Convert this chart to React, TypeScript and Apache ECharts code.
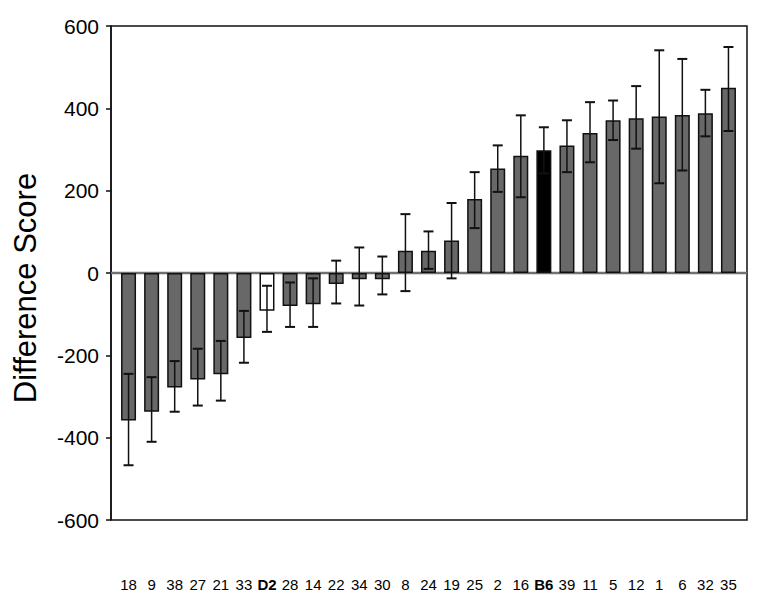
import React, { useEffect, useRef } from "react";
import * as echarts from "echarts";

const categories = ["18","9","38","27","21","33","D2","28","14","22","34","30","8","24","19","25","2","16","B6","39","11","5","12","1","6","32","35"];
const values = [-358,-337,-278,-259,-246,-158,-92,-80,-76,-27,-15,-15,54,54,79,180,254,285,298,310,340,371,376,380,384,388,450];
const errLow = [-467,-410,-337,-322,-310,-218,-143,-131,-131,-74,-79,-52,-44,10,-13,109,197,184,242,245,269,323,302,218,249,332,345];
const errHigh = [-245,-253,-214,-184,-165,-92,-31,-23,-13,30,62,40,143,101,170,245,310,383,354,371,415,419,454,541,520,445,549];
const yTicks = [-600, -400, -200, 0, 200, 400, 600];
const yTitle = "Difference Score";
const highlightWhite = "D2";
const highlightBlack = "B6";

const FONT = "'Liberation Sans', Arial, sans-serif";

export default function App() {
  const ref = useRef<HTMLDivElement>(null);
  useEffect(() => {
    if (!ref.current) return;
    const chart = echarts.init(ref.current, undefined, { renderer: "svg" });
    const yMin = yTicks[0];
    const yMax = yTicks[yTicks.length - 1];
    const option: any = {
      animation: false,
      backgroundColor: "#fff",
      grid: [
        { left: 111, right: 12, top: 26, bottom: 72, show: true, borderColor: "#111", borderWidth: 1.5, backgroundColor: "transparent", outerBoundsMode: "none", containLabel: false },
        { left: 117, right: 19, top: 26, bottom: 72, outerBoundsMode: "none", containLabel: false },
      ],
      graphic: [
        {
          type: "text",
          x: 25,
          y: 288,
          rotation: Math.PI / 2,
          style: { text: yTitle, fontSize: 31, fill: "#000", fontFamily: FONT, align: "center", verticalAlign: "middle" },
        },
      ],
      xAxis: [
        { type: "value", gridIndex: 0, min: 0, max: 1, show: false },
        {
          type: "category",
          gridIndex: 1,
          data: categories,
          axisLine: { show: false },
          axisTick: { show: false },
          axisLabel: {
            interval: 0,
            margin: 57,
            fontSize: 15,
            color: "#000",
            fontFamily: FONT,
            formatter: (v: string) => (v === highlightWhite || v === highlightBlack ? `{b|${v}}` : v),
            rich: { b: { fontWeight: "bold", fontSize: 15, fontFamily: FONT, color: "#000" } },
          },
        },
      ],
      yAxis: [
        {
          type: "value",
          gridIndex: 0,
          min: yMin,
          max: yMax,
          interval: 200,
          axisLine: { show: true, lineStyle: { color: "#111", width: 1.5 } },
          axisTick: { show: true, length: 5, lineStyle: { color: "#111", width: 1.5 } },
          axisLabel: { fontSize: 21, color: "#000", fontFamily: FONT, margin: 12 },
          splitLine: { show: false },
        },
        { type: "value", gridIndex: 1, min: yMin, max: yMax, interval: 200, show: false, splitLine: { show: false } },
      ],
      series: [
        {
          type: "line",
          xAxisIndex: 0,
          yAxisIndex: 0,
          data: [[0, 0], [1, 0]],
          symbol: "none",
          lineStyle: { color: "#707070", width: 2.5 },
          z: 1,
          silent: true,
        },
        {
          type: "bar",
          xAxisIndex: 1,
          yAxisIndex: 1,
          barWidth: 15,
          z: 2,
          data: values.map((v, i) => ({
            value: v,
            itemStyle: {
              color: categories[i] === highlightWhite ? "#ffffff" : categories[i] === highlightBlack ? "#000000" : "#686868",
              borderColor: "#111",
              borderWidth: 1.5,
            },
          })),
        },
        {
          type: "custom",
          xAxisIndex: 1,
          yAxisIndex: 1,
          z: 3,
          data: categories.map((c, i) => [i, errLow[i], errHigh[i]]),
          renderItem: (params: any, api: any) => {
            const x = api.value(0);
            const lo = api.coord([x, api.value(1)]);
            const hi = api.coord([x, api.value(2)]);
            const half = 5;
            const style = { stroke: "#111", lineWidth: 1.5 };
            return {
              type: "group",
              children: [
                { type: "line", shape: { x1: lo[0], y1: lo[1], x2: hi[0], y2: hi[1] }, style },
                { type: "line", shape: { x1: lo[0] - half, y1: lo[1], x2: lo[0] + half, y2: lo[1] }, style: { stroke: "#111", lineWidth: 2 } },
                { type: "line", shape: { x1: hi[0] - half, y1: hi[1], x2: hi[0] + half, y2: hi[1] }, style: { stroke: "#111", lineWidth: 2 } },
              ],
            };
          },
        },
      ],
    };
    chart.setOption(option);
    return () => chart.dispose();
  }, []);
  return <div ref={ref} style={{ position: "fixed", left: 0, top: 0, width: 759, height: 592 }} />;
}
